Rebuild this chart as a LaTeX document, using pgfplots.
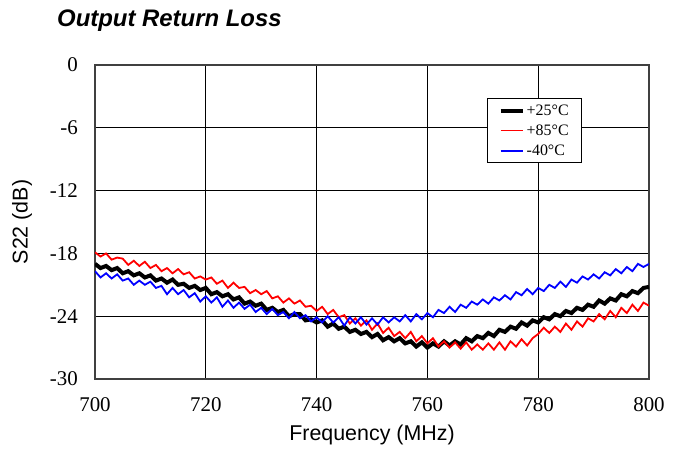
\documentclass[border=0pt]{standalone}
\usepackage{pgfplots}
\pgfplotsset{compat=1.18}
\usepackage{fontspec}
\setmainfont{Liberation Serif}
\newfontfamily\arial{Liberation Sans}

% S22 vs frequency, one table per temperature
\pgfplotstableread{
f s
700 -19.0
701 -19.4
702 -19.2
703 -19.6
704 -19.4
705 -19.9
706 -19.7
707 -20.1
708 -19.9
709 -20.3
710 -20.1
711 -20.6
712 -20.4
713 -20.8
714 -20.5
715 -21.0
716 -20.9
717 -21.3
718 -21.1
719 -21.5
720 -21.3
721 -21.9
722 -21.7
723 -22.1
724 -21.9
725 -22.4
726 -22.2
727 -22.8
728 -22.6
729 -23.0
730 -22.8
731 -23.4
732 -23.2
733 -23.6
734 -23.4
735 -24.0
736 -23.8
737 -23.8
738 -24.4
739 -24.3
740 -24.6
741 -24.4
742 -25.0
743 -24.7
744 -25.2
745 -25.0
746 -25.5
747 -25.3
748 -25.7
749 -25.5
750 -26.0
751 -25.7
752 -26.3
753 -26.0
754 -26.4
755 -26.1
756 -26.6
757 -26.4
758 -26.9
759 -26.5
760 -27.0
761 -26.6
762 -26.9
763 -26.4
764 -26.8
765 -26.4
766 -26.7
767 -26.1
768 -26.4
769 -25.9
770 -26.1
771 -25.6
772 -25.9
773 -25.3
774 -25.5
775 -25.0
776 -25.2
777 -24.6
778 -24.9
779 -24.4
780 -24.6
781 -24.1
782 -24.3
783 -23.8
784 -24.0
785 -23.5
786 -23.7
787 -23.2
788 -23.4
789 -22.9
790 -23.1
791 -22.5
792 -22.8
793 -22.3
794 -22.5
795 -21.9
796 -22.1
797 -21.6
798 -21.8
799 -21.3
800 -21.2
}\tplus

\pgfplotstableread{
f s
700 -17.9
701 -18.3
702 -18.0
703 -18.6
704 -18.4
705 -18.5
706 -19.1
707 -18.7
708 -19.2
709 -18.8
710 -19.4
711 -19.1
712 -19.7
713 -19.4
714 -19.9
715 -19.5
716 -20.0
717 -19.8
718 -20.4
719 -20.2
720 -20.5
721 -20.3
722 -20.9
723 -20.6
724 -21.3
725 -20.8
726 -21.3
727 -21.2
728 -21.8
729 -21.5
730 -21.9
731 -21.6
732 -22.3
733 -22.1
734 -22.7
735 -22.3
736 -22.8
737 -22.5
738 -23.1
739 -23.0
740 -23.5
741 -23.1
742 -23.8
743 -23.4
744 -24.1
745 -23.9
746 -24.7
747 -24.2
748 -24.9
749 -24.4
750 -25.3
751 -24.7
752 -25.6
753 -25.1
754 -25.9
755 -25.5
756 -26.1
757 -25.5
758 -26.4
759 -25.9
760 -26.6
761 -26.1
762 -26.9
763 -26.4
764 -27.0
765 -26.5
766 -27.1
767 -26.5
768 -27.2
769 -26.7
770 -27.2
771 -26.6
772 -27.2
773 -26.5
774 -27.2
775 -26.4
776 -26.9
777 -26.2
778 -26.8
779 -26.1
780 -25.7
781 -25.1
782 -25.6
783 -25.0
784 -25.5
785 -24.7
786 -25.3
787 -24.5
788 -25.0
789 -24.2
790 -24.5
791 -23.8
792 -24.3
793 -23.5
794 -24.1
795 -23.2
796 -23.7
797 -22.9
798 -23.5
799 -22.7
800 -23.0
}\thot

\pgfplotstableread{
f s
700 -19.7
701 -20.3
702 -19.9
703 -20.4
704 -20.0
705 -20.6
706 -20.4
707 -21.0
708 -20.6
709 -21.0
710 -20.7
711 -21.3
712 -21.1
713 -21.9
714 -21.3
715 -21.9
716 -21.5
717 -22.2
718 -21.8
719 -22.6
720 -22.1
721 -22.7
722 -22.2
723 -23.1
724 -22.5
725 -23.2
726 -22.7
727 -23.3
728 -22.9
729 -23.6
730 -23.2
731 -23.8
732 -23.3
733 -23.9
734 -23.6
735 -24.2
736 -23.6
737 -24.2
738 -23.9
739 -24.5
740 -24.1
741 -24.6
742 -24.0
743 -24.6
744 -24.1
745 -24.9
746 -24.1
747 -24.7
748 -24.1
749 -24.8
750 -24.2
751 -24.8
752 -24.1
753 -24.6
754 -24.1
755 -24.5
756 -23.9
757 -24.5
758 -23.8
759 -24.3
760 -23.7
761 -24.1
762 -23.4
763 -23.7
764 -23.1
765 -23.6
766 -22.9
767 -23.2
768 -22.6
769 -22.9
770 -22.4
771 -22.8
772 -22.2
773 -22.5
774 -22.0
775 -22.4
776 -21.7
777 -22.0
778 -21.4
779 -21.9
780 -21.3
781 -21.6
782 -21.0
783 -21.3
784 -20.7
785 -21.2
786 -20.5
787 -20.8
788 -20.2
789 -20.5
790 -20.0
791 -20.4
792 -19.8
793 -20.1
794 -19.5
795 -19.9
796 -19.3
797 -19.7
798 -19.0
799 -19.3
800 -19.0
}\tcold

\begin{document}
\begin{tikzpicture}
\begin{axis}[
	scale only axis,
	width=554bp,
	height=314bp,
	xmin=700, xmax=800,
	ymin=-30, ymax=0,
	xtick={700,720,...,800},
	ytick={-30,-24,...,0},
	major tick length=0pt,
	grid=major,
	major grid style={black, line width=1.2bp},
	axis line style={black!75, line width=1.5bp},
	/pgf/number format/assume math mode=true,
	tick label style={font=\fontsize{21}{24}\selectfont},
	yticklabel style={inner sep=0pt, xshift=-17bp},
	xticklabel style={inner sep=0pt, yshift=-18bp},
	xlabel={Frequency (MHz)},
	ylabel={S22 (dB)},
	label style={font=\arial\fontsize{21.5}{24}\selectfont},
	xlabel style={at={(rel axis cs:0.5,0)}, anchor=center, yshift=-56bp},
	ylabel style={at={(rel axis cs:0,0.5)}, anchor=center, yshift=73bp},
	legend style={at={(rel axis cs:0.708,0.895)}, anchor=north west,
		font=\fontsize{16}{18}\selectfont, draw=black, line width=1bp,
		inner xsep=11bp, inner ysep=4bp, row sep=4bp},
	legend cell align=left,
	legend image code/.code={\draw[#1] (0bp,0bp) -- (22bp,0bp);},
]
\addplot[black, line width=4bp] table[x=f, y=s] {\tplus};
\addlegendentry{+25°C}
\addplot[red, line width=1.8bp] table[x=f, y=s] {\thot};
\addlegendentry{+85°C}
\addplot[blue, line width=1.8bp] table[x=f, y=s] {\tcold};
\addlegendentry{-40°C}
\end{axis}
\node[anchor=base west, inner sep=0pt, font=\arial\bfseries\itshape\fontsize{24}{28}\selectfont] at (-38bp,352bp) {Output Return Loss};
\path (-95bp,-67bp) rectangle (584bp,379bp);
\end{tikzpicture}
\end{document}
